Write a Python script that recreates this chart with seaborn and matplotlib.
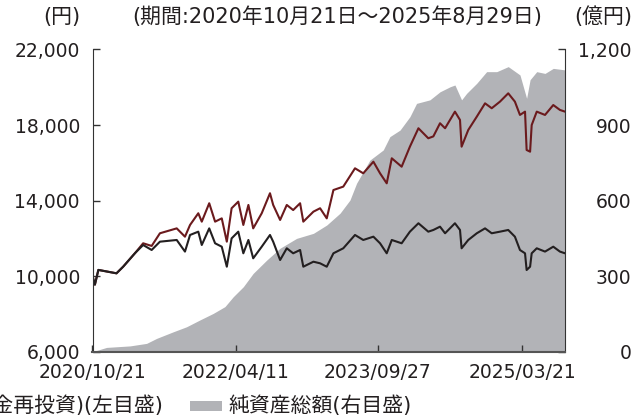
import matplotlib
matplotlib.use('Agg')
import matplotlib.pyplot as plt
import matplotlib.dates as mdates
import matplotlib.ticker as mticker
from matplotlib.patches import Rectangle
import seaborn as sns
import pandas as pd

# Fund price (left axis, yen)
nav_dates = ['2020-10-21', '2020-10-30', '2020-11-12', '2021-01-19', '2021-02-13', '2021-03-29',
             '2021-04-29', '2021-05-31', '2021-07-01', '2021-09-02', '2021-10-03', '2021-10-22',
             '2021-11-22', '2021-12-05', '2022-01-02', '2022-01-24', '2022-02-18', '2022-03-09',
             '2022-03-27', '2022-04-21', '2022-05-10', '2022-05-29', '2022-06-16', '2022-07-18',
             '2022-08-18', '2022-08-30', '2022-09-25', '2022-10-20', '2022-11-13', '2022-12-09',
             '2022-12-21', '2023-01-28', '2023-02-22', '2023-03-19', '2023-04-13', '2023-05-20',
             '2023-07-03', '2023-08-03', '2023-09-10', '2023-10-05', '2023-10-30', '2023-11-18',
             '2023-12-25', '2024-01-25', '2024-02-26', '2024-04-03', '2024-04-22', '2024-05-17',
             '2024-06-05', '2024-07-12', '2024-07-31', '2024-08-06', '2024-08-31', '2024-10-02',
             '2024-11-02', '2024-11-27', '2024-12-28', '2025-01-28', '2025-02-22', '2025-03-13',
             '2025-04-01', '2025-04-07', '2025-04-20', '2025-04-26', '2025-05-15', '2025-06-15',
             '2025-07-16', '2025-08-10', '2025-08-29']
nav_values = [10000, 9550, 10330, 10150, 10500, 11210,
              11650, 11385, 11825, 11915, 11300, 12180,
              12355, 11650, 12530, 11740, 11560, 10500,
              12000, 12355, 11210, 11915, 10945, 11560,
              12180, 11825, 10855, 11475, 11210, 11385,
              10500, 10765, 10680, 10500, 11210, 11475,
              12180, 11915, 12090, 11740, 11210, 11915,
              11740, 12355, 12800, 12355, 12445, 12620,
              12270, 12800, 12445, 11475, 11915, 12270,
              12530, 12270, 12355, 12445, 12090, 11385,
              11210, 10325, 10500, 11210, 11475, 11300,
              11560, 11300, 11210]
# Fund price with distributions reinvested (left axis, yen)
reinv_values = [10000, 9550, 10330, 10150, 10500, 11210,
                11740, 11600, 12270, 12530, 12090, 12710,
                13330, 12885, 13860, 12885, 13060, 11825,
                13595, 13945, 12710, 13770, 12530, 13330,
                14390, 13770, 12975, 13770, 13500, 13860,
                12885, 13415, 13595, 13060, 14560, 14740,
                15710, 15445, 16060, 15445, 14915, 16240,
                15795, 16855, 17830, 17300, 17400, 18095,
                17830, 18710, 18270, 16855, 17740, 18445,
                19150, 18890, 19240, 19680, 19240, 18535,
                18710, 16680, 16590, 18000, 18710, 18535,
                19060, 18800, 18710]

# Net assets (right axis, 100 million yen)
aum_dates = ['2020-10-21', '2020-12-13', '2021-03-11', '2021-05-12', '2021-06-19', '2021-08-20',
             '2021-10-09', '2021-11-28', '2022-01-17', '2022-03-02', '2022-04-02', '2022-05-10',
             '2022-06-16', '2022-08-06', '2022-09-25', '2022-11-26', '2023-01-28', '2023-03-19',
             '2023-05-08', '2023-06-14', '2023-07-09', '2023-08-28', '2023-10-17', '2023-11-11',
             '2023-12-19', '2024-01-25', '2024-02-19', '2024-04-09', '2024-05-17', '2024-06-24',
             '2024-07-12', '2024-08-06', '2024-08-25', '2024-10-02', '2024-11-08', '2024-12-16',
             '2025-01-28', '2025-03-13', '2025-04-07', '2025-04-20', '2025-05-15', '2025-06-15',
             '2025-07-16', '2025-08-29']
aum_values = [0, 17, 23, 33, 53, 79,
              99, 126, 152, 179, 218, 258,
              311, 364, 411, 450, 470, 503,
              550, 602, 669, 761, 801, 854,
              880, 933, 986, 1000, 1032, 1052,
              1059, 1000, 1026, 1066, 1112, 1112,
              1132, 1099, 1006, 1080, 1112, 1105,
              1125, 1119]

x_tick_dates = ['2020-10-21', '2022-04-11', '2023-09-27', '2025-03-21']
left_ticks = [6000, 10000, 14000, 18000, 22000]
right_ticks = [0, 300, 600, 900, 1200]

BLACK = '#231f20'
RED = '#6b1a1d'
GRAY = '#b2b3b7'
FS = 13.5      # tick labels
FS_JP = 15     # japanese texts

nav = pd.DataFrame({'date': pd.to_datetime(nav_dates), 'nav': nav_values, 'reinv': reinv_values})
aum = pd.DataFrame({'date': pd.to_datetime(aum_dates), 'value': aum_values})

sns.set_style('white')
plt.rcParams['font.family'] = ['DejaVu Sans', 'Noto Sans CJK JP']

fig = plt.figure(figsize=(6.44, 4.19), dpi=100)
ax = fig.add_axes([92.5 / 644, 1 - 351.7 / 419, 472.5 / 644, 302.2 / 419])
ax2 = ax.twinx()
# lines above the area
ax.set_zorder(ax2.get_zorder() + 1)
ax.patch.set_visible(False)

ax2.fill_between(aum['date'], aum['value'], color=GRAY, lw=0)
sns.lineplot(data=nav, x='date', y='reinv', ax=ax, color=RED, lw=1.5)
sns.lineplot(data=nav, x='date', y='nav', ax=ax, color=BLACK, lw=1.5)

ax.set_xlim(pd.Timestamp('2020-10-21'), pd.Timestamp('2025-08-29'))
ax.set_ylim(6000, 22000)
ax2.set_ylim(0, 1200)
ax.set_xlabel('')
ax.set_ylabel('')
ax2.set_ylabel('')

ax.set_xticks(pd.to_datetime(x_tick_dates))
ax.xaxis.set_major_formatter(mdates.DateFormatter('%Y/%m/%d'))
ax.set_yticks(left_ticks)
ax.yaxis.set_major_formatter(mticker.FuncFormatter(lambda v, p: f'{v:,.0f}'))
ax2.set_yticks(right_ticks)
ax2.yaxis.set_major_formatter(mticker.FuncFormatter(lambda v, p: f'{v:,.0f}'))

ax.tick_params(axis='y', direction='in', length=5, width=1, pad=9, labelsize=FS,
               colors='#333333', labelcolor='#231f20', left=True, right=False)
ax.tick_params(axis='x', direction='in', length=5, width=1, pad=8, labelsize=FS,
               colors='#333333', labelcolor='#231f20', bottom=True)
ax2.tick_params(axis='y', direction='in', length=5, width=1, pad=48, labelsize=FS,
                colors='#333333', labelcolor='#231f20', right=True)
for lab in ax2.get_yticklabels():
    lab.set_ha('right')

for s in ['top', 'right']:
    ax.spines[s].set_visible(False)
for s in ['top', 'left', 'bottom']:
    ax2.spines[s].set_visible(False)
ax.spines['left'].set_color('#333333')
ax.spines['bottom'].set_color('#555555')
ax.spines['bottom'].set_linewidth(1.5)
ax2.spines['right'].set_color('#333333')

# header texts
fig.text(80 / 644, 1 - 17 / 419, '(円)', ha='right', va='center', fontsize=FS_JP, color=BLACK)
fig.text(337 / 644, 1 - 17 / 419, '(期間:2020年10月21日～2025年8月29日)', ha='center', va='center',
         fontsize=FS_JP, color=BLACK)
fig.text(632 / 644, 1 - 17 / 419, '(億円)', ha='right', va='center', fontsize=FS_JP, color=BLACK)

# legend row (cut off at the left edge like the original)
fig.text(163 / 644, 1 - 406 / 419, '基準価額(分配金再投資)(左目盛)', ha='right', va='center',
         fontsize=FS_JP, color=BLACK)
fig.patches.append(Rectangle((190 / 644, 1 - 411 / 419), 32 / 644, 10 / 419,
                             transform=fig.transFigure, color=GRAY, lw=0))
fig.text(228 / 644, 1 - 406 / 419, '純資産総額(右目盛)', ha='left', va='center',
         fontsize=FS_JP, color=BLACK)

fig.savefig('out.png', dpi=100)
